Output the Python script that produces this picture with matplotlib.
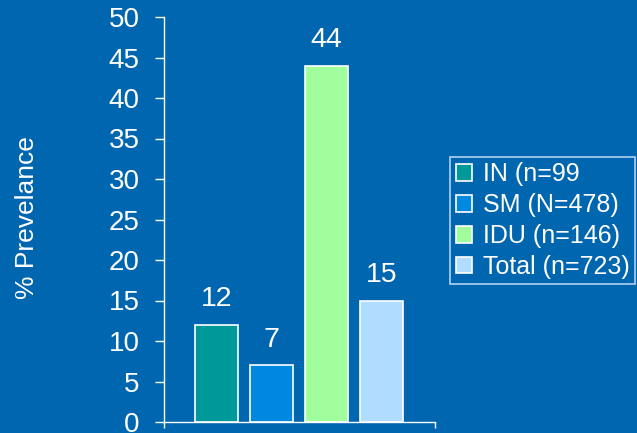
import matplotlib
matplotlib.use("Agg")
import matplotlib.pyplot as plt
import numpy as np

plt.rcParams['font.family'] = ['Liberation Sans', 'DejaVu Sans']

groups = ["IN (n=99", "SM (N=478)", "IDU (n=146)", "Total (n=723)"]
prevalence = [12, 7, 44, 15]
bar_colors = ["#009999", "#0088E0", "#A0FF9C", "#B0DDFF"]
yticks = [0, 5, 10, 15, 20, 25, 30, 35, 40, 45, 50]

bg = "#0066B0"
fig = plt.figure(figsize=(6.37, 4.33), dpi=100, facecolor=bg)
ax = fig.add_axes([164/637, 1-422/433, (435-164)/637, (422-17)/433])
ax.set_facecolor(bg)

x = np.arange(len(prevalence))
bars = ax.bar(x, prevalence, width=43/55, color=bar_colors,
              edgecolor="white", linewidth=1.2, label=groups)
for b, v in zip(bars, prevalence):
    ax.annotate(str(v), (b.get_x() + b.get_width()/2, v),
                xytext=(0, 9), textcoords="offset points",
                ha="center", va="bottom", color="white", fontsize=20.5)

ax.set_xlim(-52.5/55, 3 + 53.5/55)
ax.set_ylim(0, 50)
ax.set_yticks(yticks)
ax.set_xticks([ax.get_xlim()[0], ax.get_xlim()[1]])
ax.set_xticklabels([])
ax.tick_params(axis="y", colors="white", labelsize=20, length=6.5, width=1, pad=11)
ax.tick_params(axis="x", colors="white", length=4.5, width=1)
for s in ["top", "right"]:
    ax.spines[s].set_visible(False)
for s in ["left", "bottom"]:
    ax.spines[s].set_color("white")
    ax.spines[s].set_linewidth(1)

fig.text(27/637, 1-218/433, "% Prevelance", rotation=90, ha="center", va="center",
         color="white", fontsize=19)

leg = fig.legend(handles=bars, labels=groups, loc="upper left",
                 bbox_to_anchor=(450/637, 1-157/433), fontsize=18,
                 frameon=True, fancybox=False, facecolor=bg, edgecolor="#DDEEFF",
                 handlelength=0.65, handleheight=0.65, handletextpad=0.45,
                 labelspacing=0.27, borderpad=0.22, borderaxespad=0)
for t in leg.get_texts():
    t.set_color("white")
leg.get_frame().set_linewidth(1.2)

fig.savefig("out.png", dpi=100, facecolor=bg)
